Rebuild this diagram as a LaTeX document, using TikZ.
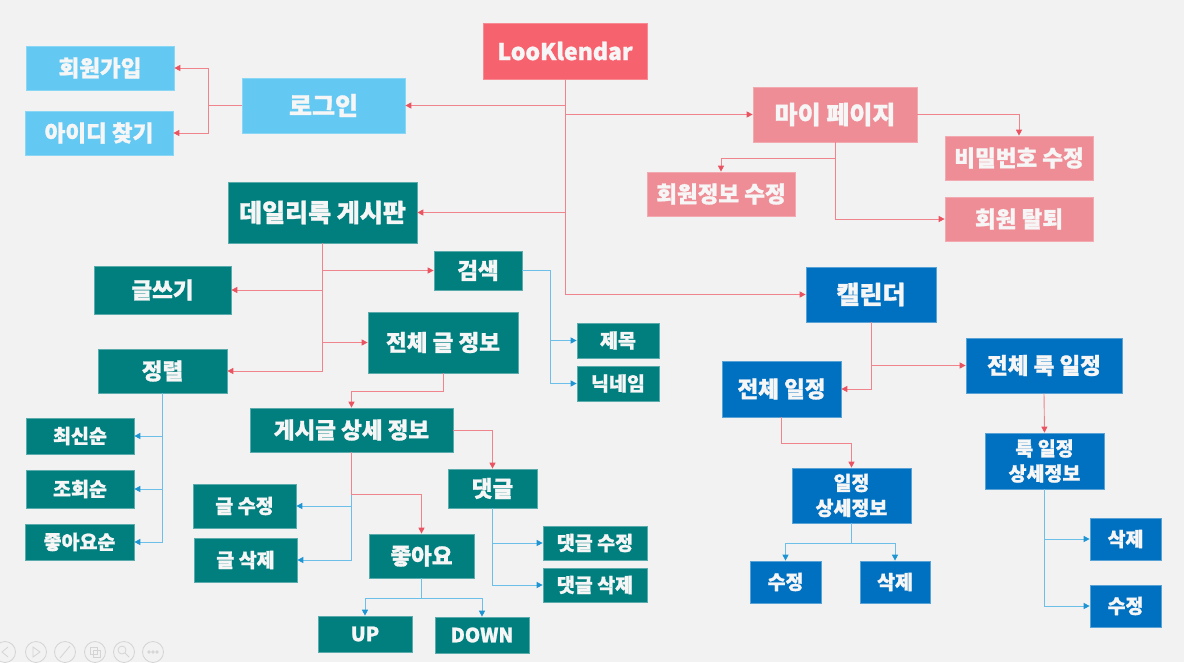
\documentclass[tikz,border=0pt]{standalone}
\usepackage{fontspec}
\setmainfont{Noto Sans CJK KR}[BoldFeatures={FakeBold=1.2}]
\usetikzlibrary{arrows.meta}
\definecolor{bgc}{HTML}{F2F2F2}
\definecolor{cLook}{HTML}{F6636F}
\definecolor{cMy}{HTML}{EE8D95}
\definecolor{cLogin}{HTML}{63C8F2}
\definecolor{cTeal}{HTML}{007F7E}
\definecolor{cBlue}{HTML}{0070C0}
\definecolor{boxtext}{HTML}{F6F6F6}
\definecolor{lineR}{HTML}{EF848C}
\definecolor{tipR}{HTML}{EA5461}
\definecolor{lineB}{HTML}{6CBFE8}
\definecolor{tipB}{HTML}{1E95D3}
\definecolor{uiGray}{HTML}{D4D4D4}
\newcommand\bx[7]{\node[#1,minimum width={(#5-#3)*1pt},minimum height={(#6-#4)*1pt}] (#2) at ({(#3+#5)/2},{(#4+#6)/2}) {#7};}
\begin{document}
\begin{tikzpicture}[x=1pt,y=-1pt,
  box/.style={rectangle, inner sep=0pt, text=boxtext, align=center, line width=0.7pt},
  lookbox/.style={box, fill=cLook, draw=cLook!75!white},
  mybox/.style={box, fill=cMy, draw=cMy!75!white},
  loginbox/.style={box, fill=cLogin, draw=cLogin!75!white},
  tbox/.style={box, fill=cTeal, draw=cTeal!65!white},
  bbox/.style={box, fill=cBlue, draw=cBlue!65!white},
  fxl/.style={font=\bfseries\fontsize{23}{26}\selectfont},
  fl/.style={font=\bfseries\fontsize{25}{28}\selectfont},
  fm/.style={font=\bfseries\fontsize{22.5}{26}\selectfont},
  fs/.style={font=\bfseries\fontsize{19.5}{25}\selectfont},
  rl/.style={draw=lineR, line width=0.9pt},
  ra/.style={rl, -{Triangle[length=6pt,width=6pt,color=tipR]}},
  bl/.style={draw=lineB, line width=0.9pt},
  ba/.style={bl, -{Triangle[length=6pt,width=6pt,color=tipB]}},
  ui/.style={draw=uiGray, line width=0.8pt}
]
\useasboundingbox[fill=bgc] (0,0) rectangle (1184,662);

% top
\bx{lookbox,fxl}{look}{483}{23}{647}{79}{LooKlendar}
\bx{loginbox,fl}{login}{242}{78}{405}{133}{로그인}
\bx{loginbox,fm}{join}{26}{46}{174}{90}{회원가입}
\bx{loginbox,fm}{findid}{25}{111}{173}{155}{아이디 찾기}
\bx{mybox,fl}{mypage}{753}{87}{917}{142}{마이 페이지}
\bx{mybox,fm}{pw}{945}{136}{1093}{180}{비밀번호 수정}
\bx{mybox,fm}{withdraw}{945}{197}{1093}{241}{회원 탈퇴}
\bx{mybox,fm}{info}{647}{172}{795}{216}{회원정보 수정}

% daily look board
\bx{tbox,fl}{daily}{228}{182}{417}{243}{데일리룩 게시판}
\bx{tbox,fm}{write}{94}{266}{231}{314}{글쓰기}
\bx{tbox,fm}{sort}{98}{349}{227}{393}{정렬}
\bx{tbox,fm}{search}{434}{251}{522}{290}{검색}
\bx{tbox,fm}{allinfo}{368}{312}{518}{373}{전체 글 정보}
\bx{tbox,fs}{title}{577}{323}{659}{358}{제목}
\bx{tbox,fs}{nick}{577}{366}{659}{401}{닉네임}
\bx{tbox,fs}{latest}{26}{418}{134}{454}{최신순}
\bx{tbox,fs}{views}{26}{470}{134}{508}{조회순}
\bx{tbox,fs}{likes}{25}{524}{134}{560}{좋아요순}
\bx{tbox,fm}{detail}{250}{408}{453}{452}{게시글 상세 정보}
\bx{tbox,fs}{pedit}{193}{484}{296}{528}{글 수정}
\bx{tbox,fs}{pdel}{194}{538}{297}{582}{글 삭제}
\bx{tbox,fm}{cmt}{448}{469}{537}{508}{댓글}
\bx{tbox,fm}{like}{369}{534}{474}{578}{좋아요}
\bx{tbox,fs}{cedit}{543}{526}{647}{560}{댓글 수정}
\bx{tbox,fs}{cdel}{543}{568}{647}{602}{댓글 삭제}
\bx{tbox,fs}{up}{318}{616}{412}{652}{UP}
\bx{tbox,fs}{down}{435}{617}{529}{653}{DOWN}

% calendar
\bx{bbox,fl}{cal}{806}{267}{936}{322}{캘린더}
\bx{bbox,fm}{allsch}{722}{361}{841}{417}{전체 일정}
\bx{bbox,fm}{alllook}{966}{338}{1122}{393}{전체 룩 일정}
\bx{bbox,fs}{schdet}{792}{468}{911}{523}{일정\\상세정보}
\bx{bbox,fs}{sedit}{750}{561}{821}{603}{수정}
\bx{bbox,fs}{sdel}{860}{561}{930}{603}{삭제}
\bx{bbox,fs}{lookdet}{985}{433}{1104}{489}{룩 일정\\상세정보}
\bx{bbox,fs}{ldel}{1090}{518}{1161}{560}{삭제}
\bx{bbox,fs}{ledit}{1090}{585}{1161}{627}{수정}

% trunk
\draw[ra] (look.south) |- (cal.west);
\draw[ra] (look.south |- login.east) -- (login.east);
\draw[ra] (look.south |- mypage.west) -- (mypage.west);
\draw[ra] (look.south |- daily.east) -- (daily.east);

% login
\coordinate (lj) at (208,105.5);
\draw[ra] (login.west) -- (lj) |- (join.east);
\draw[ra] (lj) |- (findid.east);

% my page
\draw[ra] (mypage.east) -| (pw.north);
\draw[ra] (mypage.south) |- (withdraw.west);
\coordinate (mj) at (835,158);
\draw[ra] (mypage.south) -- (mj) -| (info.north);

% daily
\draw[ra] (daily.south) |- (sort.east);
\draw[ra] (daily.south |- search.west) -- (search.west);
\draw[ra] (daily.south |- write.east) -- (write.east);
\draw[ra] (daily.south |- allinfo.west) -- (allinfo.west);
\coordinate (sj) at (550,270.5);
\draw[ba] (search.east) -- (sj) |- (title.west);
\draw[ba] (sj) |- (nick.west);
\coordinate (aj) at (443,391);
\draw[ra] (allinfo.south) -- (aj) -| (detail.north);
\draw[ba] (sort.south) |- (latest.east);
\draw[ba] (sort.south) |- (views.east);
\draw[ba] (sort.south) |- (likes.east);
\draw[ba] (detail.south) |- (pedit.east);
\draw[ba] (detail.south) |- (pdel.east);
\coordinate (dj) at (351.5,494);
\draw[ra] (detail.south) -- (dj) -| (like.north);
\draw[ra] (detail.east) -| (cmt.north);
\draw[ba] (cmt.south) |- (cedit.west);
\draw[ba] (cmt.south) |- (cdel.west);
\coordinate (kj) at (421.5,598);
\draw[ba] (like.south) -- (kj) -| (up.north);
\draw[ba] (kj) -| (down.north);

% calendar
\draw[ra] (cal.south) |- (alllook.west);
\draw[ra] (cal.south) |- (allsch.east);
\coordinate (cj) at (781.5,443);
\draw[ra] (allsch.south) -- (cj) -| (schdet.north);
\coordinate (ej) at (851.5,543);
\draw[ba] (schdet.south) -- (ej) -| (sedit.north);
\draw[ba] (ej) -| (sdel.north);
\draw[ra] (alllook.south) -- (lookdet.north);
\draw[ba] (lookdet.south) |- (ldel.west);
\draw[ba] (lookdet.south) |- (ledit.west);

% presentation toolbar (faint)
\foreach \cx in {5,36,65,95,124,153} \draw[ui] (\cx,652) circle (10.5);
\draw[ui] (8,647) -- (2,652) -- (8,657);
\draw[ui] (33,647) -- (40,652) -- (33,657) -- cycle;
\draw[ui] (60,658) -- (70,646);
\draw[ui] (90,647) rectangle (97,654) (93,650) rectangle (100,657);
\draw[ui] (122,650) circle (4) (125,653) -- (129,657);
\foreach \dx in {-4,0,4} \draw[ui] (153+\dx,652) circle (1.2);
\end{tikzpicture}
\end{document}
